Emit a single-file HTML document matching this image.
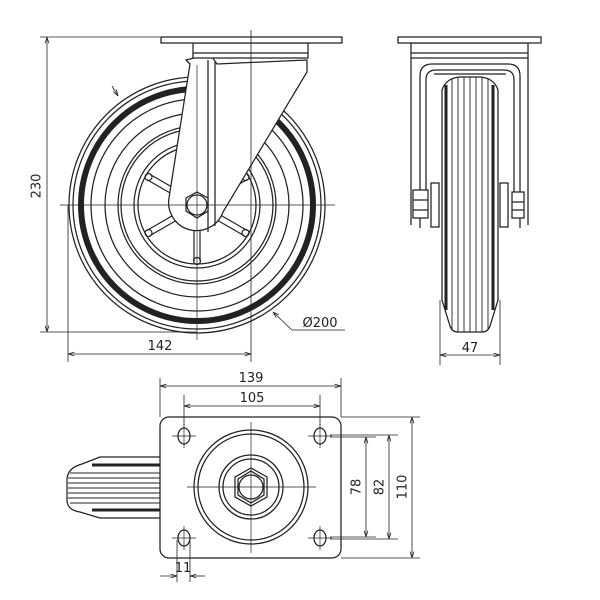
<!DOCTYPE html>
<html><head><meta charset="utf-8"><style>
html,body{margin:0;padding:0;background:#fff}
svg{display:block}
text{font-family:"DejaVu Sans","Liberation Sans",sans-serif;font-size:13px;fill:#222}
</style></head><body>
<svg width="600" height="600" viewBox="0 0 600 600" xmlns="http://www.w3.org/2000/svg">
<defs>
<marker id="a" viewBox="0 0 10 10" refX="10" refY="5" markerWidth="8" markerHeight="8" orient="auto-start-reverse"><path d="M0,2 L10,5 L0,8" fill="none" stroke="#222" stroke-width="1.2"/></marker>
<g id="sp" fill="none" stroke="#222" stroke-width="1.2"><line x1="20" y1="-3" x2="56" y2="-3"/><line x1="20" y1="3" x2="56" y2="3"/><circle cx="56" cy="0" r="3.5"/></g>
</defs>
<g fill="none" stroke="#222" stroke-width="1.25">
<!-- SIDE VIEW wheel -->
<circle cx="197" cy="205" r="128"/>
<circle cx="197" cy="205" r="124"/>
<circle cx="197" cy="205" r="116" stroke-width="6"/>
<circle cx="197" cy="205" r="106"/>
<circle cx="197" cy="205" r="92"/>
<circle cx="197" cy="205" r="79"/>
<circle cx="197" cy="205" r="76"/>
<circle cx="197" cy="205" r="63"/>
<circle cx="197" cy="205" r="59"/>
<g transform="translate(197,205)">
<use href="#sp" transform="rotate(30)"/><use href="#sp" transform="rotate(90)"/><use href="#sp" transform="rotate(150)"/>
<use href="#sp" transform="rotate(210)"/><use href="#sp" transform="rotate(-30)"/>
</g>
<!-- fork -->
<path d="M190,64 L186,60 L198,57 L212,57 L217,64 L307,60 L307,72 L223,212 A28,28 0 0 1 169,198 L190,64 Z" fill="#fff"/>
<line x1="208" y1="60" x2="208" y2="232"/>
<line x1="215" y1="62" x2="215" y2="226"/>
<polygon points="197,192 208,198 208,211 197,218 186,211 186,198" fill="#fff"/>
<circle cx="197" cy="205" r="10"/>
<!-- plates -->
<rect x="193" y="43" width="115" height="15" fill="#fff"/>
<line x1="193" y1="53" x2="308" y2="53"/>
<rect x="161" y="37" width="181" height="6" fill="#fff"/>
<!-- center lines -->
<g stroke-width="0.7">
<line x1="60" y1="205" x2="335" y2="205"/>
<line x1="197" y1="65" x2="197" y2="340"/>
</g>
<!-- dims side -->
<g stroke-width="0.8">
<line x1="40" y1="37" x2="160" y2="37"/>
<line x1="40" y1="332" x2="197" y2="332"/>
<line x1="47" y1="37" x2="47" y2="332" marker-start="url(#a)" marker-end="url(#a)"/>
<line x1="68" y1="205" x2="68" y2="362"/>
<line x1="251" y1="30" x2="251" y2="362"/>
<line x1="68" y1="354" x2="251" y2="354" marker-start="url(#a)" marker-end="url(#a)"/>
<line x1="112" y1="86" x2="118" y2="96" marker-end="url(#a)"/>
<line x1="292" y1="330" x2="273" y2="312" marker-end="url(#a)"/>
<line x1="292" y1="330" x2="345" y2="330"/>
</g>
<!-- FRONT VIEW -->
<line x1="411" y1="58" x2="411" y2="225"/>
<line x1="528" y1="58" x2="528" y2="225"/>
<path d="M420,228 L420,76 Q420,64 432,64 L508,64 Q520,64 520,76 L520,228"/>
<path d="M426,200 L426,80 Q426,70 436,70 L504,70 Q514,70 514,80 L514,200"/>
<line x1="434" y1="74" x2="506" y2="74"/>
<path d="M442,90 Q446,78 460,77 L480,77 Q494,78 498,90 L498,300 L490,326 Q488,332 482,332 L458,332 Q452,332 450,326 L442,300 Z"/>
<line x1="446" y1="85" x2="446" y2="310" stroke-width="3"/>
<line x1="493" y1="85" x2="493" y2="310" stroke-width="3"/>
<g stroke-width="0.9">
<line x1="452" y1="78" x2="452" y2="330"/><line x1="458" y1="77" x2="458" y2="332"/>
<line x1="464" y1="77" x2="464" y2="332"/><line x1="470" y1="77" x2="470" y2="332"/>
<line x1="476" y1="77" x2="476" y2="332"/><line x1="482" y1="77" x2="482" y2="332"/>
<line x1="488" y1="78" x2="488" y2="330"/>
</g>
<rect x="431" y="183" width="8" height="44" fill="#fff"/>
<rect x="500" y="183" width="8" height="44" fill="#fff"/>
<rect x="413" y="190" width="15" height="28" fill="#fff"/>
<line x1="413" y1="200" x2="428" y2="200"/><line x1="413" y1="210" x2="428" y2="210"/>
<rect x="512" y="192" width="12" height="26" fill="#fff"/>
<line x1="512" y1="202" x2="524" y2="202"/><line x1="512" y1="210" x2="524" y2="210"/>
<rect x="411" y="43" width="117" height="15" fill="#fff"/>
<line x1="411" y1="53" x2="528" y2="53"/>
<rect x="398" y="37" width="143" height="6" fill="#fff"/>
<g stroke-width="0.8">
<line x1="440" y1="300" x2="440" y2="365"/>
<line x1="500" y1="300" x2="500" y2="365"/>
<line x1="440" y1="355" x2="500" y2="355" marker-start="url(#a)" marker-end="url(#a)"/>
</g>
<!-- BOTTOM VIEW -->
<path d="M160,457 L100,457 L82,464 Q67,468 67,480 L67,500 Q67,510 80,512 L100,518 L160,518"/>
<line x1="92" y1="465" x2="160" y2="465" stroke-width="3"/>
<line x1="92" y1="510" x2="160" y2="510" stroke-width="3"/>
<g stroke-width="0.9">
<line x1="70" y1="473" x2="160" y2="473"/><line x1="68" y1="478" x2="160" y2="478"/>
<line x1="68" y1="483" x2="160" y2="483"/><line x1="68" y1="488" x2="160" y2="488"/>
<line x1="68" y1="493" x2="160" y2="493"/><line x1="68" y1="498" x2="160" y2="498"/>
<line x1="70" y1="503" x2="160" y2="503"/>
</g>
<rect x="160" y="417" width="181" height="141" rx="9" fill="#fff"/>
<circle cx="251" cy="487" r="57"/>
<circle cx="251" cy="487" r="53"/>
<circle cx="251" cy="487" r="32"/>
<circle cx="251" cy="487" r="28"/>
<polygon points="251,468 267,477 267,497 251,506 235,497 235,477"/>
<polygon points="251,471 264,479 264,495 251,503 238,495 238,479"/>
<circle cx="251" cy="487" r="12"/>
<ellipse cx="184" cy="436" rx="6" ry="8"/>
<ellipse cx="320" cy="436" rx="6" ry="8"/>
<ellipse cx="184" cy="538" rx="6" ry="8"/>
<ellipse cx="320" cy="538" rx="6" ry="8"/>
<g stroke-width="0.7">
<line x1="251" y1="422" x2="251" y2="553"/>
<line x1="187" y1="487" x2="316" y2="487"/>
<line x1="172" y1="436" x2="196" y2="436"/><line x1="184" y1="424" x2="184" y2="448"/>
<line x1="308" y1="436" x2="332" y2="436"/><line x1="320" y1="424" x2="320" y2="448"/>
<line x1="172" y1="538" x2="196" y2="538"/><line x1="184" y1="526" x2="184" y2="550"/>
<line x1="308" y1="538" x2="332" y2="538"/><line x1="320" y1="526" x2="320" y2="550"/>
</g>
<g stroke-width="0.8">
<line x1="160" y1="378" x2="160" y2="417"/>
<line x1="341" y1="378" x2="341" y2="417"/>
<line x1="160" y1="386" x2="341" y2="386" marker-start="url(#a)" marker-end="url(#a)"/>
<line x1="184" y1="395" x2="184" y2="426"/>
<line x1="320" y1="395" x2="320" y2="426"/>
<line x1="184" y1="406" x2="320" y2="406" marker-start="url(#a)" marker-end="url(#a)"/>
<line x1="341" y1="417" x2="420" y2="417"/>
<line x1="341" y1="558" x2="420" y2="558"/>
<line x1="412" y1="417" x2="412" y2="558" marker-start="url(#a)" marker-end="url(#a)"/>
<line x1="330" y1="435" x2="398" y2="435"/>
<line x1="330" y1="539" x2="398" y2="539"/>
<line x1="389" y1="435" x2="389" y2="539" marker-start="url(#a)" marker-end="url(#a)"/>
<line x1="330" y1="437" x2="376" y2="437"/>
<line x1="330" y1="537" x2="376" y2="537"/>
<line x1="366" y1="437" x2="366" y2="537" marker-start="url(#a)" marker-end="url(#a)"/>
<line x1="177" y1="540" x2="177" y2="582"/>
<line x1="190" y1="540" x2="190" y2="582"/>
<line x1="160" y1="576" x2="177" y2="576" marker-end="url(#a)"/>
<line x1="205" y1="576" x2="190" y2="576" marker-end="url(#a)"/>
</g>
</g>
<text x="37" y="186" text-anchor="middle" transform="rotate(-90 37 186)" dominant-baseline="middle">230</text>
<text x="160" y="350" text-anchor="middle">142</text>
<text x="320" y="327" text-anchor="middle">Ø200</text>
<text x="470" y="352" text-anchor="middle">47</text>
<text x="251" y="382" text-anchor="middle">139</text>
<text x="252" y="402" text-anchor="middle">105</text>
<text x="357" y="487" text-anchor="middle" transform="rotate(-90 357 487)" dominant-baseline="middle">78</text>
<text x="380" y="487" text-anchor="middle" transform="rotate(-90 380 487)" dominant-baseline="middle">82</text>
<text x="403" y="487" text-anchor="middle" transform="rotate(-90 403 487)" dominant-baseline="middle">110</text>
<text x="183" y="572" text-anchor="middle">11</text>
</svg>
</body></html>
